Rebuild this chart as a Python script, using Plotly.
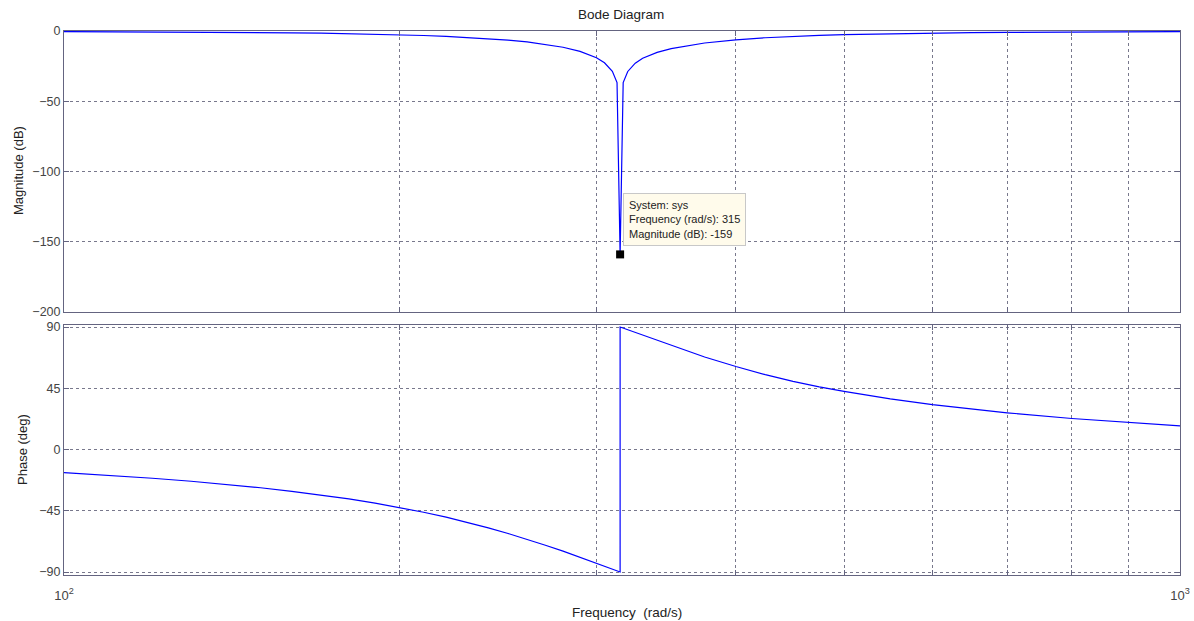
import plotly.graph_objects as go

# Frequency samples (rad/s) and the magnitude read at each of them
freq = [100, 110, 120, 130, 140, 150, 160, 170, 180, 190, 200, 210, 220, 230,
        240, 250, 260, 270, 280, 290, 300, 305, 310, 313, 315, 317, 320, 325,
        330, 340, 350, 375, 400, 425, 450, 475, 500, 550, 600, 650, 700, 800,
        900, 1000]
mag_db = [-0.39, -0.49, -0.60, -0.74, -0.90, -1.09, -1.31, -1.57, -1.87, -2.24,
          -2.66, -3.19, -3.78, -4.54, -5.42, -6.48, -7.81, -9.45, -11.57, -14.5,
          -19.0, -22.6, -28.7, -36.7, -159, -36.7, -28.8, -22.9, -19.4, -15.2,
          -12.5, -8.52, -6.26, -4.8, -3.82, -3.12, -2.62, -1.94, -1.48, -1.17,
          -0.96, -0.66, -0.50, -0.40]

# Phase: branch below the notch, then the branch above it
phase_freq = [100, 110, 120, 130, 140, 150, 160, 170, 180, 190, 200, 210, 220,
              230, 240, 250, 260, 270, 280, 290, 300, 305, 310, 313, 315,
              315, 317, 320, 325, 330, 340, 350, 375, 400, 425, 450, 475, 500,
              550, 600, 650, 700, 800, 900, 1000]
phase_deg = [-17.0, -19.0, -21.1, -23.3, -25.6, -28.1, -30.7, -33.4, -36.3,
             -39.4, -42.6, -46.1, -49.7, -53.6, -57.6, -61.7, -66.0, -70.3,
             -74.7, -79.2, -83.6, -85.7, -87.9, -89.2, -90.0,
             90.0, 89.2, 87.9, 85.9, 83.9, 80.0, 76.3, 68.0, 61.0, 55.0, 50.1,
             46.0, 42.7, 37.2, 33.0, 29.8, 27.0, 22.8, 19.8, 17.4]

# Data tip
tip_freq = 315
tip_mag = -159

x_ticks = [100, 200, 300, 400, 500, 600, 700, 800, 900, 1000]
x_tick_text = ["10<sup>2</sup>", "", "", "", "", "", "", "", "", "10<sup>3</sup>"]
mag_ticks = [0, -50, -100, -150, -200]
phase_ticks = [90, 45, 0, -45, -90]

W, H = 1194, 621
axis_col = "rgb(100,100,128)"
grid_col = "rgb(120,120,140)"
text_col = "#444444"
font = "Arial, Liberation Sans, sans-serif"

fig = go.Figure()
fig.add_trace(go.Scatter(x=freq, y=mag_db, mode="lines",
                         line=dict(color="rgb(0,0,255)", width=1.2),
                         xaxis="x", yaxis="y", showlegend=False))
fig.add_trace(go.Scatter(x=[tip_freq], y=[tip_mag], mode="markers",
                         marker=dict(symbol="square", size=8, color="black"),
                         xaxis="x", yaxis="y", showlegend=False))
fig.add_trace(go.Scatter(x=phase_freq, y=phase_deg, mode="lines",
                         line=dict(color="rgb(0,0,255)", width=1.2),
                         xaxis="x2", yaxis="y2", showlegend=False))

common_x = dict(type="log", range=[2, 3], tickvals=x_ticks, automargin=False,
                showline=True, linecolor=axis_col, linewidth=1, mirror="allticks",
                ticks="inside", ticklen=5, tickcolor=axis_col,
                showgrid=True, gridcolor=grid_col, griddash="3px,3px",
                gridwidth=1, zeroline=False,
                tickfont=dict(family=font, size=13, color=text_col))
common_y = dict(showline=True, linecolor=axis_col, linewidth=1, mirror="allticks",
                ticks="inside", ticklen=5, tickcolor=axis_col, automargin=False,
                showgrid=True, gridcolor=grid_col, griddash="3px,3px",
                gridwidth=1, zeroline=False,
                tickfont=dict(family=font, size=12.5, color=text_col))

left, right = 64, 1180
top_mag, bot_mag = 31, 312
top_ph, bot_ph = 325, 575

fig.update_layout(
    width=W, height=H,
    margin=dict(l=0, r=0, t=0, b=0),
    paper_bgcolor="white", plot_bgcolor="white",
    xaxis=dict(common_x, domain=[left / W, right / W], anchor="y",
               showticklabels=False),
    yaxis=dict(common_y, domain=[1 - bot_mag / H, 1 - top_mag / H], anchor="x",
               range=[-200, 0], tickvals=mag_ticks),
    xaxis2=dict(common_x, domain=[left / W, right / W], anchor="y2",
                ticktext=x_tick_text, matches="x", ticklabelstandoff=8),
    yaxis2=dict(common_y, domain=[1 - bot_ph / H, 1 - top_ph / H], anchor="x2",
                range=[-92.2, 91.5], tickvals=phase_ticks),
    annotations=[
        dict(text="Bode Diagram", x=621 / W, y=1 - 15 / H, xref="paper",
             yref="paper", showarrow=False, xanchor="center", yanchor="middle",
             font=dict(family=font, size=13.5, color="#222222")),
        dict(text="Magnitude (dB)", x=18 / W, y=1 - 171 / H, xref="paper",
             yref="paper", showarrow=False, textangle=-90, xanchor="center",
             yanchor="middle", font=dict(family=font, size=13, color="#222222")),
        dict(text="Phase (deg)", x=22 / W, y=1 - 450 / H, xref="paper",
             yref="paper", showarrow=False, textangle=-90, xanchor="center",
             yanchor="middle", font=dict(family=font, size=13, color="#222222")),
        dict(text="Frequency  (rad/s)", x=627 / W, y=1 - 612 / H, xref="paper",
             yref="paper", showarrow=False, xanchor="center", yanchor="middle",
             font=dict(family=font, size=13.5, color="#222222")),
        dict(text=(f"System: sys<br>Frequency (rad/s): {tip_freq}"
                   f"<br>Magnitude (dB): {tip_mag}"),
             x=623 / W, y=1 - 193 / H, xref="paper", yref="paper",
             showarrow=False, xanchor="left", yanchor="top", align="left",
             bgcolor="rgb(255,251,235)", bordercolor="rgb(200,200,200)",
             borderwidth=1, borderpad=5,
             font=dict(family=font, size=11, color="#222222")),
    ],
)

fig.write_html("out.html")
